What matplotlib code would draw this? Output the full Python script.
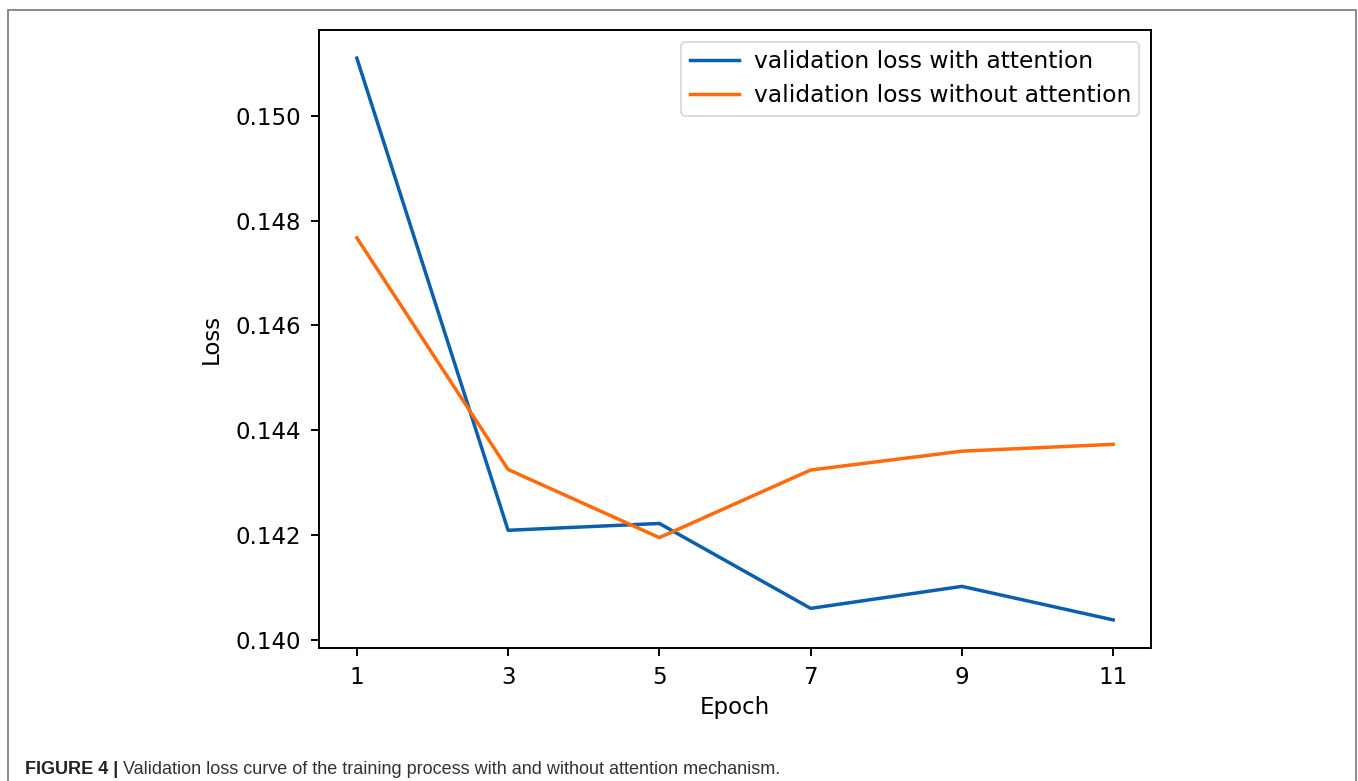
import matplotlib
matplotlib.use("Agg")
import matplotlib.pyplot as plt
from matplotlib.patches import Rectangle

# values
epochs = [1, 3, 5, 7, 9, 11]
loss_with_att = [0.1511, 0.14209, 0.14222, 0.14060, 0.14102, 0.14038]
loss_without_att = [0.14767, 0.14325, 0.14195, 0.14324, 0.14360, 0.14373]
labels = ["validation loss with attention", "validation loss without attention"]
caption_bold = "FIGURE 4 |"
caption_text = " Validation loss curve of the training process with and without attention mechanism."

plt.rcParams['font.family'] = ['DejaVu Sans']

fig = plt.figure(figsize=(13.58, 7.81), dpi=100)
ax = fig.add_axes([0.2349, 0.1703, 0.6127, 0.7913])

ax.plot(epochs, loss_with_att, color='#0a5fae', lw=2.5, label=labels[0])
ax.plot(epochs, loss_without_att, color='#ff6a0a', lw=2.5, label=labels[1])

ax.set_xticks(epochs)
ax.set_yticks([0.140, 0.142, 0.144, 0.146, 0.148, 0.150])
ax.set_yticklabels(["0.140", "0.142", "0.144", "0.146", "0.148", "0.150"])
ax.tick_params(labelsize=16.5, length=6, width=1.4, pad=7)
for s in ax.spines.values():
    s.set_linewidth(1.4)
ax.set_xlabel("Epoch", fontsize=16.5, labelpad=5)
ax.set_ylabel("Loss", fontsize=16.5, labelpad=9)

leg = ax.legend(loc='upper right', fontsize=16.8, handlelength=2.1,
                borderpad=0.35, labelspacing=0.5, handletextpad=0.65,
                borderaxespad=0.5)
leg.get_frame().set_linewidth(1.2)

# outer frame of the figure panel
fig.patches.append(Rectangle((8 / 1358, -0.05), 1348 / 1358, 1.05 - 10 / 781,
                             transform=fig.transFigure, fill=False,
                             edgecolor='#777777', lw=1.2))

# caption with bold prefix
cap_font = ['Liberation Sans Narrow', 'Liberation Sans', 'DejaVu Sans']
t1 = fig.text(25 / 1358, 1 - 774 / 781, caption_bold, fontsize=13, fontweight='bold',
              family=cap_font, color='#222222', va='baseline')
fig.canvas.draw()
bb = t1.get_window_extent()
fig.text(bb.x1 / 1358, 1 - 774 / 781, caption_text, fontsize=13,
         family=cap_font, color='#333333', va='baseline')

fig.savefig("out.png", dpi=100)
